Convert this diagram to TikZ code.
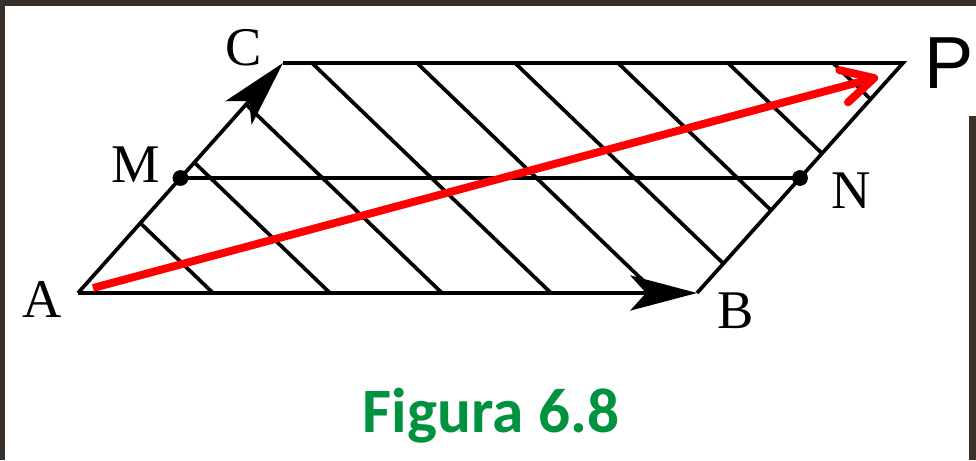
\documentclass[tikz,border=0pt]{standalone}
\usepackage{fontspec}
\setmainfont{Liberation Serif}
\newfontfamily\pfont{Liberation Sans}
\newfontfamily\figfont{Carlito}
\usepackage{xcolor}
\usetikzlibrary{arrows.meta,calc}
\definecolor{framegray}{RGB}{55,48,43}
\definecolor{figgreen}{RGB}{0,146,63}

\begin{document}
\begin{tikzpicture}[
  x=0.02cm, y=-0.02cm,
  edge/.style={line width=2.1pt},
  hatch/.style={line width=2.1pt},
  vec/.style={line width=2.1pt,-{Stealth[length=38pt,width=20pt,inset=9pt]}},
  redvec/.style={line width=4.5pt,red,-{Straight Barb[length=18pt,width=19pt,round]}},
  lbl/.style={font=\fontsize{31}{31}\selectfont,anchor=base,inner sep=0pt},
  ptdot/.style={circle,fill,inner sep=0pt,minimum size=9pt}
]
\useasboundingbox (0,0) rectangle (976,460);
\fill[framegray] (0,0) rectangle (976,6);
\fill[framegray] (0,0) rectangle (5,460);
\fill[framegray] (969,116) rectangle (976,460);

\coordinate (A) at (78,293);
\coordinate (B) at (697,293);
\coordinate (C) at (283,63);
\coordinate (D) at (903,63);
\coordinate (M) at ($(A)!0.5!(C)$);
\coordinate (N) at ($(B)!0.5!(D)$);
\coordinate (a0) at (93,288);
\coordinate (p) at (878,77);

\begin{scope}
  \clip (A) -- (B) -- (D) -- (C) -- cycle;
  \foreach \b in {213,330,442,551,656,754,857,967,1072}
    \draw[hatch] (\b,293) -- ++(-239,-230);
\end{scope}

\draw[edge] (C) -- (D) -- (B);
\draw[edge] (M) -- (N);
\draw[vec] (A) -- (C);
\draw[vec] (A) -- (B);
\node[ptdot] (m) at (M) {};
\node[ptdot] (n) at (N) {};
\draw[redvec] (a0) -- (p);

\node[lbl] (lA) at (42,317) {A};
\node[lbl] (lB) at (736,328) {B};
\node[lbl] (lC) at (244,65) {C};
\node[lbl] (lM) at (136,182) {M};
\node[lbl] (lN) at (851,208) {N};
\node[font=\pfont\fontsize{42}{42}\selectfont,anchor=base,inner sep=0pt] (lP) at (949,88) {P};
\node[font=\figfont\bfseries\fontsize{36}{36}\selectfont,text=figgreen,anchor=base,inner sep=0pt] (cap) at (491,432) {Figura 6.8};
\end{tikzpicture}
\end{document}
